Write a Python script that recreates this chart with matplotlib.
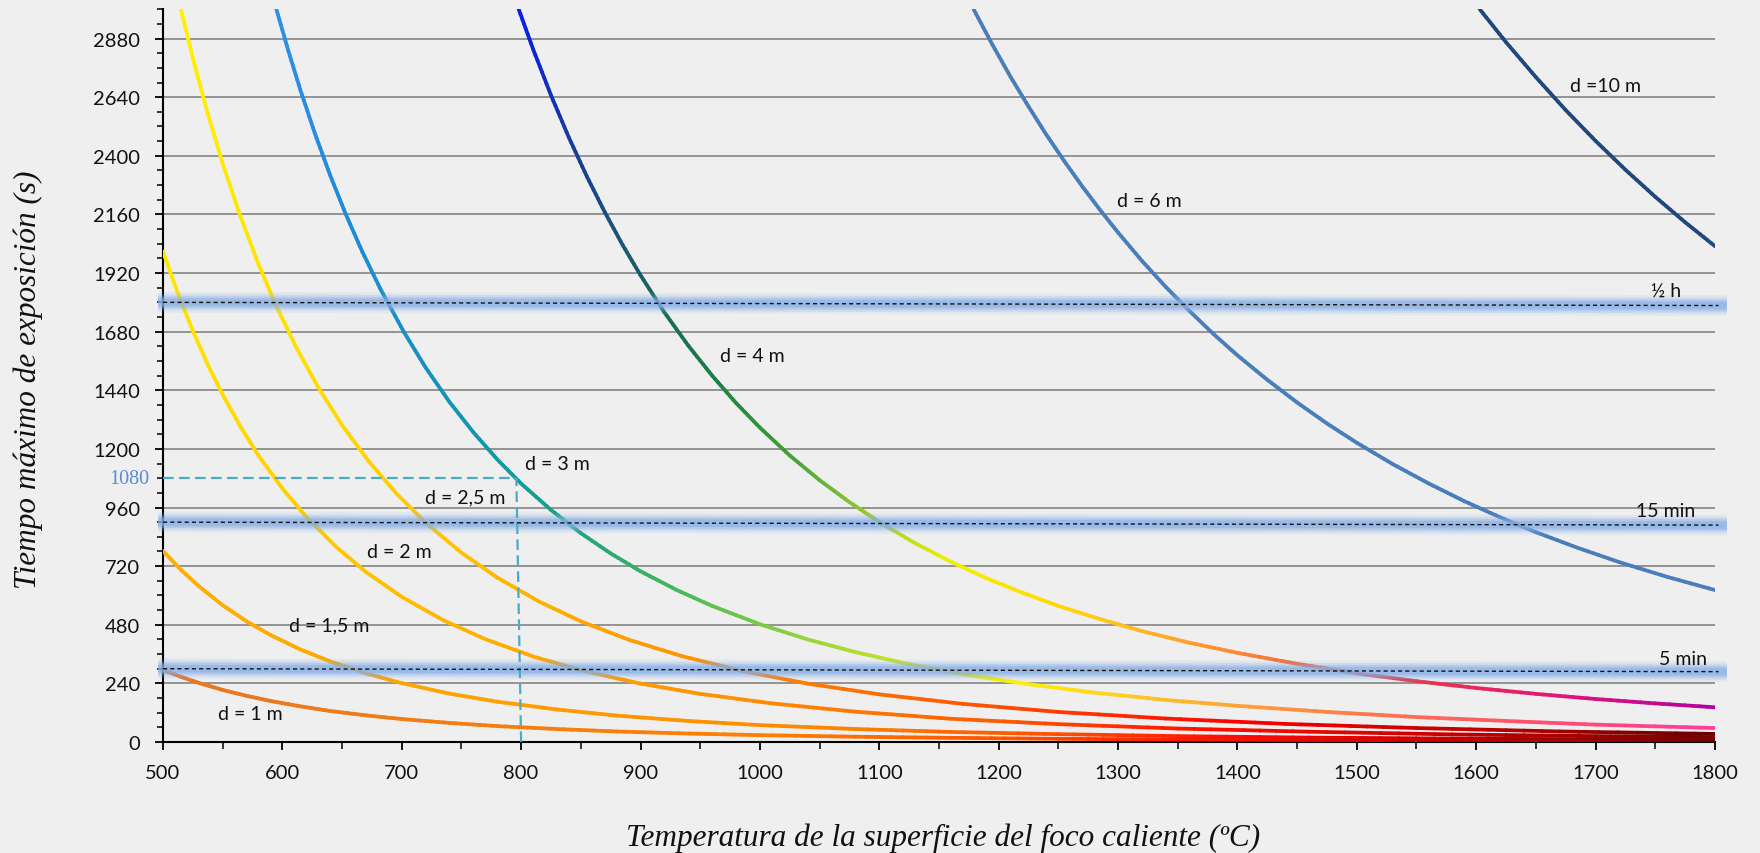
import matplotlib
matplotlib.use("Agg")
import matplotlib.pyplot as plt
import numpy as np
from matplotlib.collections import LineCollection
from matplotlib.colors import LinearSegmentedColormap
from matplotlib.ticker import MultipleLocator

# ---- valores: temperatura (ºC) y tiempo (s) ----
T_d1 = [500, 515, 530, 550, 570, 590, 615, 640, 670, 700, 740, 780, 830, 880, 940,
        1000, 1080, 1160, 1250, 1350, 1460, 1580, 1700, 1800]
t_d1 = [295, 267, 242, 213, 189, 168, 146, 127, 109, 94, 78, 65, 53, 43, 34.5,
        28, 21.5, 17, 13, 10, 7.7, 5.9, 4.6, 3.8]

T_d15 = T_d1
t_d15 = [782, 705, 638, 560, 494, 438, 379, 330, 281, 241, 198, 165, 133, 108, 86,
         69, 53, 41, 32, 24, 18, 14, 11, 9]

T_d2 = [500, 512, 525, 538, 550, 565, 580, 600, 620, 645, 670, 700, 735, 770, 810,
        850, 900, 950, 1010, 1080, 1160, 1250, 1350, 1460, 1580, 1700, 1800]
t_d2 = [2008, 1843, 1683, 1540, 1422, 1290, 1173, 1038, 922, 799, 696, 594, 498, 421, 350,
        294, 239, 197, 158, 124, 95, 73, 55, 42, 31, 24, 20]

T_d25 = [515, 525, 537, 550, 565, 580, 595, 612, 630, 650, 672, 695, 720, 750, 780,
         815, 850, 890, 935, 985, 1040, 1100, 1170, 1250, 1340, 1440, 1550, 1670, 1800]
t_d25 = [3000, 2800, 2581, 2368, 2150, 1956, 1784, 1612, 1452, 1297, 1151, 1020, 898, 775, 673,
         575, 494, 419, 351, 291, 239, 195, 156, 123, 96, 74, 57, 43, 33]

T_d3 = [595, 605, 615, 627, 640, 653, 667, 682, 702, 720, 740, 760, 780, 800, 825,
        850, 875, 900, 930, 960, 1000, 1040, 1080, 1120, 1170, 1220, 1280, 1340, 1400,
        1475, 1550, 1625, 1700, 1800]
t_d3 = [3000, 2830, 2671, 2495, 2321, 2162, 2007, 1856, 1677, 1533, 1392, 1268, 1157, 1058, 950,
        855, 772, 699, 623, 557, 482, 420, 368, 324, 278, 240, 202, 172, 148,
        123, 102, 86, 71, 57]

T_d4 = [798, 810, 825, 840, 855, 870, 885, 900, 920, 940, 960, 980, 1000, 1025, 1050,
        1075, 1100, 1130, 1160, 1190, 1220, 1250, 1285, 1320, 1360, 1400, 1450, 1500,
        1550, 1600, 1650, 1700, 1750, 1800]
t_d4 = [3000, 2837, 2648, 2475, 2316, 2170, 2035, 1911, 1759, 1623, 1500, 1388, 1287, 1173, 1072,
        982, 901, 814, 738, 670, 611, 557, 503, 454, 406, 365, 320, 281,
        249, 221, 197, 176, 158, 142]

T_d6 = [1179, 1195, 1210, 1225, 1240, 1255, 1270, 1285, 1300, 1320, 1340, 1360, 1380, 1400,
        1425, 1450, 1475, 1500, 1530, 1560, 1590, 1620, 1650, 1685, 1720, 1760, 1800]
t_d6 = [3000, 2853, 2723, 2602, 2486, 2378, 2275, 2178, 2086, 1970, 1863, 1764, 1670, 1583,
        1483, 1390, 1304, 1225, 1138, 1059, 986, 920, 859, 795, 736, 676, 622]

T_d10 = [1603, 1625, 1650, 1675, 1700, 1725, 1750, 1775, 1800]
t_d10 = [3000, 2865, 2722, 2587, 2461, 2343, 2232, 2128, 2030]

etiquetas = ['d = 1 m', 'd = 1,5 m', 'd = 2 m', 'd = 2,5 m', 'd = 3 m', 'd = 4 m', 'd = 6 m', 'd =10 m']
etiq_x = [573, 639, 698, 753, 830, 994, 1326, 1708]
etiq_y = [118, 479, 779, 1003, 1140, 1582, 2216, 2686]

# lineas de referencia (media hora, 15 min, 5 min), ligeramente inclinadas
ref_ini = [1800, 900, 300]
ref_fin = [1787, 888, 288]
ref_txt = ['½ h', '15 min', '5 min']
ref_tx = [1759, 1759, 1773]
ref_ty = [1849, 948, 342]

# ejemplo: 800 ºC -> 1080 s
ej_T = [800, 796]
ej_t = [0, 1080]

# colores a lo largo de cada curva (T, color)
col_d1 = [(500, '#E87722'), (800, '#F57F0E'), (1000, '#FF8000'), (1200, '#FF5500'),
          (1350, '#FF1A00'), (1500, '#E00000'), (1650, '#A50000'), (1800, '#6E0000')]
col_d15 = [(500, '#FFB000'), (800, '#FF9F00'), (1050, '#FF8800'), (1250, '#FF5000'),
           (1400, '#FF0A00'), (1550, '#D00000'), (1800, '#700000')]
col_d2 = [(500, '#FFE800'), (600, '#FFD000'), (800, '#FFAA00'), (1000, '#FF8C00'),
          (1200, '#FF5A00'), (1370, '#FF1000'), (1550, '#D00000'), (1800, '#780000')]
col_d25 = [(515, '#FFF000'), (650, '#FFD800'), (800, '#FFB400'), (950, '#FF9000'),
           (1150, '#FF6000'), (1300, '#FF2A00'), (1400, '#FF0000'), (1600, '#C00000'), (1800, '#6A0000')]
col_d3 = [(595, '#2F8FE8'), (650, '#1E8BD8'), (720, '#1592C0'), (790, '#11999E'),
          (850, '#1FA57E'), (930, '#45B85A'), (1040, '#98D43A'), (1145, '#D8EA18'),
          (1213, '#FFF000'), (1300, '#FFD020'), (1369, '#FFB030'), (1500, '#FF7A4A'),
          (1650, '#FF5070'), (1800, '#FF3C9A')]
col_d4 = [(798, '#0A1EE6'), (840, '#163C9E'), (880, '#1A5478'), (920, '#186A5E'),
          (960, '#1B8042'), (1010, '#36993A'), (1060, '#6EB83A'), (1110, '#B0D72A'),
          (1165, '#F3F000'), (1240, '#FFDC00'), (1300, '#FFC21E'), (1369, '#FF9A2E'),
          (1450, '#F76A3A'), (1560, '#E8344C'), (1680, '#E0147A'), (1800, '#B400A0')]
col_d6 = [(1179, '#4A7EBB'), (1800, '#4A7EBB')]
col_d10 = [(1603, '#1F497D'), (1800, '#1F497D')]

FONDO = '#EFEFEF'


def curva(ax, xs, ys, paradas, lw=2.7):
    xs = np.asarray(xs, float)
    ys = np.asarray(ys, float)
    x0, x1 = paradas[0][0], paradas[-1][0]
    cmap = LinearSegmentedColormap.from_list(
        'g', [((p - x0) / (x1 - x0), c) for p, c in paradas])
    segs, cols = [], []
    for i in range(len(xs) - 1):
        # cada tramo recto se trocea solo para poder degradar el color
        f = np.linspace(0, 1, 9)
        px = xs[i] + f * (xs[i + 1] - xs[i])
        py = ys[i] + f * (ys[i + 1] - ys[i])
        for k in range(8):
            segs.append([(px[k], py[k]), (px[k + 1], py[k + 1])])
            xm = 0.5 * (px[k] + px[k + 1])
            cols.append(cmap(np.clip((xm - x0) / (x1 - x0), 0, 1)))
    lc = LineCollection(segs, colors=cols, linewidths=lw, capstyle='round',
                        joinstyle='round', zorder=3)
    ax.add_collection(lc)


fig = plt.figure(figsize=(17.6, 8.54), dpi=100, facecolor=FONDO)
ax = fig.add_axes([0.0926, 0.130, 0.8818, 0.858])
ax.set_facecolor(FONDO)

series = [(T_d1, t_d1, col_d1), (T_d15, t_d15, col_d15), (T_d2, t_d2, col_d2),
          (T_d25, t_d25, col_d25), (T_d3, t_d3, col_d3), (T_d4, t_d4, col_d4),
          (T_d6, t_d6, col_d6), (T_d10, t_d10, col_d10)]
for xs, ys, cc in series:
    curva(ax, xs, ys, cc)

# lineas de tiempo de referencia con halo azul
for y0, y1 in zip(ref_ini, ref_fin):
    for w, a in [(15, 0.12), (11.5, 0.22), (8.5, 0.38), (5.5, 0.55)]:
        ax.plot([496, 1810], [y0, y1], color='#86AEE6', lw=w, alpha=a,
                solid_capstyle='butt', clip_on=False, zorder=4)
    ax.plot([500, 1803], [y0, y1], color='#111111', lw=1.0, ls=(0, (3.0, 2.2)),
            clip_on=False, zorder=5)

for s, x, y in zip(ref_txt, ref_tx, ref_ty):
    ax.text(x, y, s, ha='center', va='center', fontsize=14, family='Lato',
            color='#111111', zorder=6)

# ejemplo 800 ºC
ax.plot([500, ej_T[1]], [ej_t[1], ej_t[1]], color='#4BACC6', lw=1.6,
        ls=(0, (4.8, 2.4)), zorder=4)
ax.plot(ej_T, ej_t, color='#4BACC6', lw=1.6, ls=(0, (4.8, 2.4)), zorder=4)
ax.annotate('1080', xy=(0, ej_t[1]), xycoords=('axes fraction', 'data'),
            xytext=(-10, 0), textcoords='offset points', ha='right', va='center',
            fontsize=14.5, family='Liberation Serif', color='#558ED5',
            annotation_clip=False)

for s, x, y in zip(etiquetas, etiq_x, etiq_y):
    ax.text(x, y, s, ha='center', va='center', fontsize=14, family='Lato',
            color='#111111', zorder=6)

ax.set_xlim(500, 1800)
ax.set_ylim(0, 3000)
ax.xaxis.set_major_locator(MultipleLocator(100))
ax.xaxis.set_minor_locator(MultipleLocator(50))
ax.yaxis.set_major_locator(MultipleLocator(240))
ax.yaxis.set_minor_locator(MultipleLocator(60))

ax.yaxis.grid(True, which='major', color='#8C8C8C', lw=1.3)
ax.set_axisbelow(True)

for lado in ['top', 'right']:
    ax.spines[lado].set_visible(False)
for lado in ['left', 'bottom']:
    ax.spines[lado].set_color('black')
    ax.spines[lado].set_linewidth(1.5)

ax.tick_params(axis='y', which='major', direction='out', length=5.5, width=1.3, pad=11)
ax.tick_params(axis='y', which='minor', direction='out', length=4, width=1.1)
ax.tick_params(axis='x', which='major', direction='out', length=6, width=1.3, pad=10)
ax.tick_params(axis='x', which='minor', direction='out', length=5, width=1.1)
for lab in ax.get_xticklabels() + ax.get_yticklabels():
    lab.set_family('Lato')
    lab.set_fontsize(14.5)
    lab.set_color('#111111')

fig.text(0.536, 0.019, 'Temperatura de la superficie del foco caliente (ºC)',
         ha='center', va='center', fontsize=22.5, family='Liberation Serif',
         style='italic', color='#111111')
fig.text(0.0162, 0.555, 'Tiempo máximo de exposición (s)', rotation=90,
         ha='center', va='center', fontsize=22.5, family='Liberation Serif',
         style='italic', color='#111111')

fig.savefig('out.png', dpi=100, facecolor=FONDO)
